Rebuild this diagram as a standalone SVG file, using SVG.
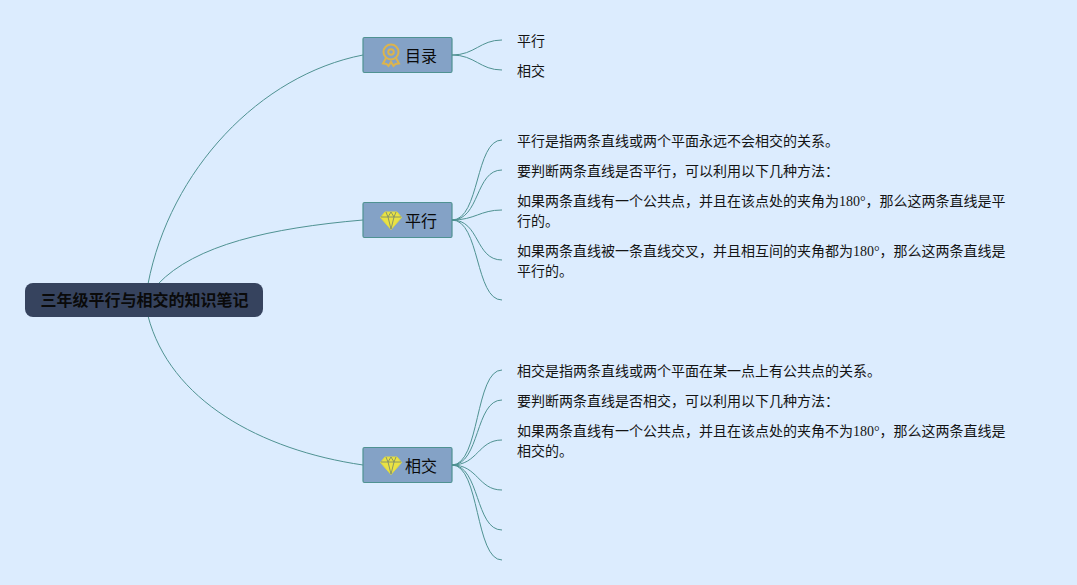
<svg xmlns="http://www.w3.org/2000/svg" width="1077" height="585" viewBox="0 0 1077 585">
<style>
.l{fill:none;stroke:#4f9292;stroke-width:1}
.t{font-family:"Liberation Serif","Noto Sans CJK SC",serif;font-size:14px;fill:#141414}
.b{fill:#84a2c6;stroke:#4f9292;stroke-width:1.200}
.n{font-family:"Noto Sans CJK SC","Liberation Sans",sans-serif;font-size:16px;fill:#0a0a0a}
.d{fill:#e9e244;stroke:#e2db3c;stroke-width:1}
.f{fill:none;stroke:#7f8f6a;stroke-width:.9}
</style>
<rect width="1077" height="585" fill="#dcecfe"/>
<g id="connectors">
<path class="l" d="M148 284C170 170 260 75 363 55"/>
<path class="l" d="M158 284C195 245 270 228 363 220"/>
<path class="l" d="M148 316C170 400 260 450 363 465"/>
<path class="l" d="M452 55C475 55 480 40 502 40"/>
<path class="l" d="M452 55C475 55 480 70 502 70"/>
<path class="l" d="M452 220C480 220 475 140 502 140"/>
<path class="l" d="M452 220C480 220 475 170 502 170"/>
<path class="l" d="M452 220C475 220 480 210 502 210"/>
<path class="l" d="M452 220C480 220 475 260 502 260"/>
<path class="l" d="M452 220C480 220 475 300 502 300"/>
<path class="l" d="M452 465C480 465 475 370 502 370"/>
<path class="l" d="M452 465C480 465 475 400 502 400"/>
<path class="l" d="M452 465C478 465 478 440 502 440"/>
<path class="l" d="M452 465C478 465 478 490 502 490"/>
<path class="l" d="M452 465C480 465 475 530 502 530"/>
<path class="l" d="M452 465C480 465 475 560 502 560"/>
</g>
<g id="root"><rect x="25" y="283" width="238" height="34" rx="8" fill="#36435e"/>
<text x="144.500" y="306" text-anchor="middle" font-family="'Noto Sans CJK SC',sans-serif" font-size="16px" font-weight="700" fill="#0a0a0a">三年级平行与相交的知识笔记</text></g>
<g id="n1"><rect class="b" x="363" y="37.500" width="89" height="35" rx="1.500"/>
<g fill="none" stroke="#dcb44c" stroke-width="2"><circle cx="391" cy="52" r="7.500"/><circle cx="391" cy="52" r="2.800"/><path d="M386 58l-3 5.500 3.500.5 2 2 2.500-4 2.500 4 2-2 3.500-.5-3-5.500"/></g>
<text class="n" x="405" y="62">目录</text></g>
<g id="n2"><rect class="b" x="363" y="202.500" width="89" height="35" rx="1.500"/>
<path class="d" d="M385 212h12l4.500 5.500-10.500 12-10.500-12z"/><path class="f" d="M381 217h20M386 212l2 5 3 12 3-12 2-5M391 212l-3 5M391 212l3 5"/>
<text class="n" x="405" y="227">平行</text></g>
<g id="n3"><rect class="b" x="363" y="447.500" width="89" height="35" rx="1.500"/>
<path class="d" d="M385 457h12l4.500 5.500-10.500 12-10.500-12z"/><path class="f" d="M381 462h20M386 457l2 5 3 12 3-12 2-5M391 457l-3 5M391 457l3 5"/>
<text class="n" x="405" y="472">相交</text></g>
<g id="leaf1"><text class="t" x="517" y="46">平行</text></g>
<g id="leaf2"><text class="t" x="517" y="76">相交</text></g>
<g id="leaf3"><text class="t" x="517" y="146">平行是指两条直线或两个平面永远不会相交的关系。</text></g>
<g id="leaf4"><text class="t" x="517" y="176">要判断两条直线是否平行，可以利用以下几种方法：</text></g>
<g id="leaf5"><text class="t" x="517" y="206">如果两条直线有一个公共点，并且在该点处的夹角为180°，那么这两条直线是平</text><text class="t" x="517" y="226">行的。</text></g>
<g id="leaf6"><text class="t" x="517" y="256">如果两条直线被一条直线交叉，并且相互间的夹角都为180°，那么这两条直线是</text><text class="t" x="517" y="276">平行的。</text></g>
<g id="leaf7"><text class="t" x="517" y="376">相交是指两条直线或两个平面在某一点上有公共点的关系。</text></g>
<g id="leaf8"><text class="t" x="517" y="406">要判断两条直线是否相交，可以利用以下几种方法：</text></g>
<g id="leaf9"><text class="t" x="517" y="436">如果两条直线有一个公共点，并且在该点处的夹角不为180°，那么这两条直线是</text><text class="t" x="517" y="456">相交的。</text></g>
</svg>
